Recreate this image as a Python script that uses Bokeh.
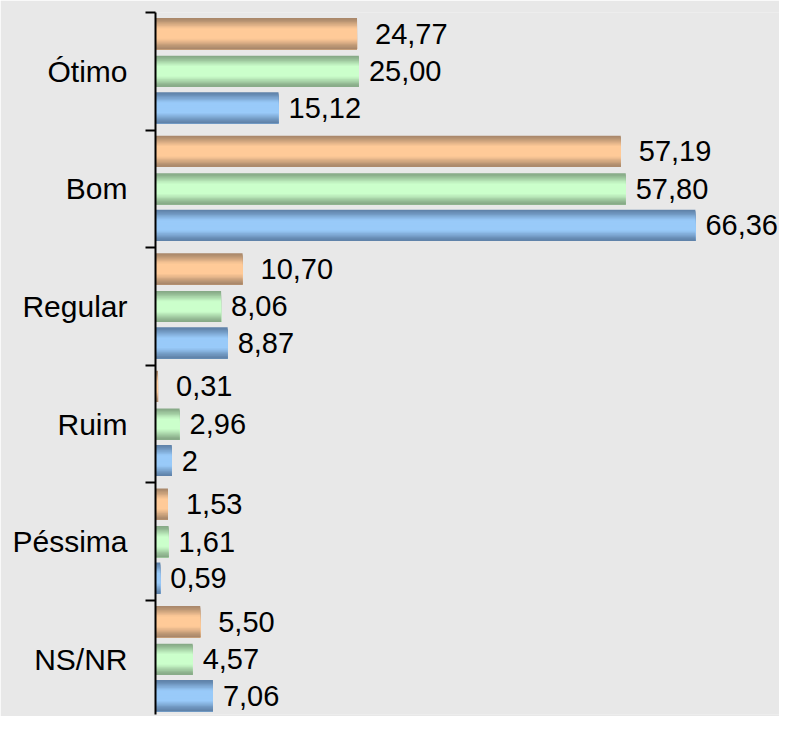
import numpy as np
from bokeh.plotting import figure
from bokeh.models import FixedTicker, Range1d
from bokeh.core.properties import value
from bokeh.embed import file_html
from bokeh.resources import INLINE

# ---- data ----
categories = ["Ótimo", "Bom", "Regular", "Ruim", "Péssima", "NS/NR"]
orange_vals = [24.77, 57.19, 10.70, 0.31, 1.53, 5.50]
green_vals = [25.00, 57.80, 8.06, 2.96, 1.61, 4.57]
blue_vals = [15.12, 66.36, 8.87, 2.00, 0.59, 7.06]
orange_labels = ["24,77", "57,19", "10,70", "0,31", "1,53", "5,50"]
green_labels = ["25,00", "57,80", "8,06", "2,96", "1,61", "4,57"]
blue_labels = ["15,12", "66,36", "8,87", "2", "0,59", "7,06"]

FONT = value("Liberation Sans")
BG = "#e8e8e8"

p = figure(width=779, height=716, output_backend="svg", toolbar_location=None,
           x_range=Range1d(0, 76.7), y_range=Range1d(0.03, 6),
           x_axis_location=None, min_border_left=155, min_border_right=0,
           min_border_top=12, min_border_bottom=2,
           background_fill_color=BG, border_fill_color=BG,
           outline_line_color=None, title=None)
p.grid.visible = False

n_cat = len(categories)
centers = np.array([n_cat - 0.5 - k for k in range(n_cat)])
H = 0.265
N = 24


def hex2rgb(h):
    h = h.lstrip("#")
    return np.array([int(h[i:i + 2], 16) for i in (0, 2, 4)], dtype=float)


def mix(a, b, f):
    c = hex2rgb(a) * (1 - f) + hex2rgb(b) * f
    return "#%02x%02x%02x" % tuple(int(round(x)) for x in c)


series = [
    (orange_vals, orange_labels, 0.32, "#a8876a", "#ffca98", 18),
    (green_vals, green_labels, 0.0, "#86a886", "#cbffcb", 10),
    (blue_vals, blue_labels, -0.31, "#5f82a8", "#99caf9", 10),
]

for vals, labels, off, edge, center, tx in series:
    ys = centers + off
    # gradient: successive strips, each reaching down to the bar bottom
    for j in range(N):
        t0 = j / N
        tm = (j + 0.5) / N
        f = min(1.0, 1.2 * np.sin(np.pi * tm) ** 1.5)
        col = mix(edge, center, f)
        tops = ys + H / 2 - t0 * H
        bots = ys - H / 2
        p.hbar(y=(tops + bots) / 2, left=0, right=vals, height=tops - bots,
               fill_color=col, line_color=None)
    p.text(x=vals, y=ys, text=labels, x_offset=tx, text_baseline="middle",
           text_align="left", text_font=FONT, text_font_size="29px", text_color="black")

ax = p.yaxis[0]
ax.ticker = FixedTicker(ticks=list(centers), minor_ticks=list(range(n_cat + 1)))
ax.major_label_overrides = {float(c): categories[k] for k, c in enumerate(centers)}
ax.major_tick_out = 0
ax.major_tick_in = 0
ax.minor_tick_out = 10
ax.minor_tick_in = 0
ax.minor_tick_line_width = 2
ax.minor_tick_line_color = "black"
ax.axis_line_width = 2
ax.axis_line_color = "black"
ax.major_label_text_font = "Liberation Sans"
ax.major_label_text_font_size = "30px"
ax.major_label_text_color = "black"
ax.major_label_standoff = 18

open("out.html", "w").write(file_html(p, INLINE))
